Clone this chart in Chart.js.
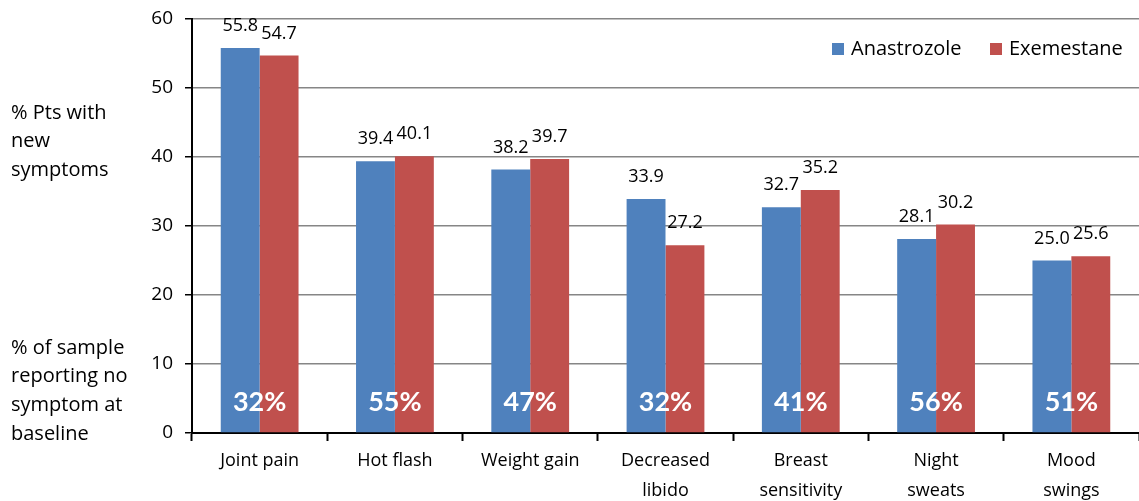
<!DOCTYPE html>
<html>
<head>
<meta charset="utf-8">
<script src="https://cdn.jsdelivr.net/npm/chart.js@4.4.1/dist/chart.umd.min.js"></script>
<style>
  html, body { margin: 0; padding: 0; background: #fff; }
  #wrap { width: 1139px; height: 501px; position: relative; }
</style>
</head>
<body>
<div id="wrap"><canvas id="symptomChart"></canvas></div>
<script>
const categories = ['Joint pain', 'Hot flash', 'Weight gain', ['Decreased', 'libido'], ['Breast', 'sensitivity'], ['Night', 'sweats'], ['Mood', 'swings']];
const anastrozole = [55.8, 39.4, 38.2, 33.9, 32.7, 28.1, 25.0];
const exemestane = [54.7, 40.1, 39.7, 27.2, 35.2, 30.2, 25.6];
const noSymptomPct = [32, 55, 47, 32, 41, 56, 51];
const yTicks = [0, 10, 20, 30, 40, 50, 60];

const FONT = '"Open Sans", "Liberation Sans", sans-serif';
const BOLD_FONT = 'Lato, "Open Sans", sans-serif';

// value labels, baseline percentages, side captions and legend
const overlay = {
  id: 'overlay',
  afterDatasetsDraw(chart) {
    const { ctx, scales: { y } } = chart;
    ctx.save();

    // numbers above each bar
    ctx.font = '18px ' + FONT;
    ctx.fillStyle = '#000';
    ctx.textAlign = 'center';
    ctx.textBaseline = 'middle';
    chart.data.datasets.forEach((ds, di) => {
      chart.getDatasetMeta(di).data.forEach((bar, i) => {
        ctx.fillText(ds.data[i].toFixed(1), bar.x, bar.y - 22);
      });
    });

    // % with no symptom at baseline, centred on each pair
    const m0 = chart.getDatasetMeta(0).data;
    const m1 = chart.getDatasetMeta(1).data;
    ctx.font = 'bold 27px ' + BOLD_FONT;
    ctx.fillStyle = '#fff';
    noSymptomPct.forEach((p, i) => {
      const cx = (m0[i].x + m1[i].x) / 2;
      ctx.fillText(p + '%', cx, y.getPixelForValue(4.4));
    });

    // captions on the left
    ctx.font = '20px ' + FONT;
    ctx.fillStyle = '#000';
    ctx.textAlign = 'left';
    ['% Pts with', 'new', 'symptoms'].forEach((t, i) => ctx.fillText(t, 11, 113 + i * 28.7));
    ['% of sample', 'reporting no', 'symptom at', 'baseline'].forEach((t, i) => ctx.fillText(t, 11, 348 + i * 28.7));

    // legend
    let lx = 832;
    chart.data.datasets.forEach(ds => {
      ctx.fillStyle = ds.backgroundColor;
      ctx.fillRect(lx, 43, 12, 12);
      ctx.fillStyle = '#000';
      ctx.fillText(ds.label, lx + 19, 49);
      lx += 158;
    });
    ctx.restore();
  }
};

new Chart(document.getElementById('symptomChart'), {
  type: 'bar',
  data: {
    labels: categories,
    datasets: [{
      label: 'Anastrozole',
      data: anastrozole,
      backgroundColor: '#4F81BD'
    }, {
      label: 'Exemestane',
      data: exemestane,
      backgroundColor: '#C0504D'
    }]
  },
  options: {
    responsive: true,
    maintainAspectRatio: false,
    animation: false,
    categoryPercentage: 0.575,
    barPercentage: 1,
    layout: { padding: { top: 19, right: 0, left: 0, bottom: 0 } },
    plugins: {
      legend: { display: false },
      tooltip: { enabled: false }
    },
    scales: {
      x: {
        grid: { offset: true, drawOnChartArea: false, tickLength: 8, tickColor: '#000', tickWidth: 2 },
        border: { color: '#000', width: 2 },
        ticks: { color: '#000', font: { family: FONT, size: 18, lineHeight: 1.65 }, padding: 5, maxRotation: 0, autoSkip: false },
        afterFit(scale) { scale.height = 68; }
      },
      y: {
        min: 0,
        max: 60,
        afterBuildTicks(scale) { scale.ticks = yTicks.map(v => ({ value: v })); },
        grid: { color: '#868686', lineWidth: 1.5, tickLength: 7, tickColor: '#000' },
        border: { color: '#000', width: 2 },
        ticks: { color: '#000', font: { family: FONT, size: 19 }, padding: 12 },
        afterFit(scale) {
          scale.width = 192;
          scale.paddingTop = 0;
          scale.paddingBottom = 0;
        }
      }
    }
  },
  plugins: [overlay]
});
</script>
</body>
</html>
